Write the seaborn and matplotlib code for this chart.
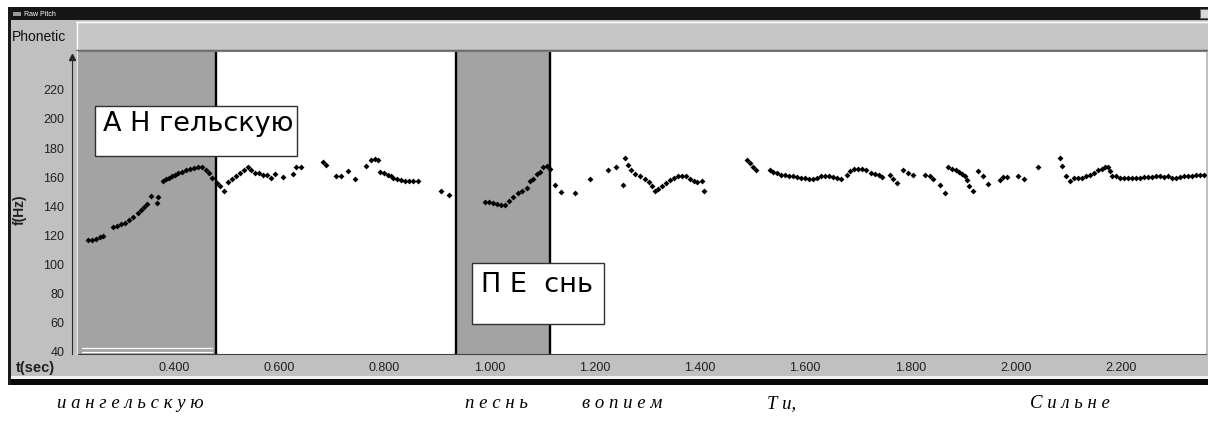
import matplotlib
matplotlib.use("Agg")
import matplotlib.pyplot as plt
import seaborn as sns
import pandas as pd
from matplotlib.patches import Rectangle
from matplotlib.ticker import MultipleLocator, FormatStrFormatter

# pitch track (t in sec, f in Hz)
angel_t = [0.236, 0.244, 0.252, 0.259, 0.265, 0.284, 0.292, 0.299, 0.307, 0.314,
           0.322, 0.332, 0.337, 0.343, 0.349, 0.356, 0.368, 0.370, 0.379, 0.385,
           0.390, 0.396, 0.402, 0.408, 0.415, 0.423, 0.430, 0.438, 0.446, 0.453,
           0.461, 0.467, 0.472, 0.482, 0.487, 0.495, 0.503, 0.510, 0.518, 0.525,
           0.533, 0.541, 0.546, 0.554, 0.562, 0.569, 0.577, 0.584, 0.592, 0.607,
           0.626, 0.632, 0.641, 0.683, 0.689, 0.708, 0.717, 0.731, 0.744, 0.765,
           0.775, 0.782, 0.788, 0.792, 0.799, 0.807, 0.813, 0.816, 0.824, 0.832,
           0.839, 0.847, 0.854, 0.864, 0.908, 0.923]
angel_f = [116, 116, 117, 118, 119, 125, 126, 127, 128, 130,
           132, 135, 137, 139, 141, 146.5, 141.7, 146, 157, 158,
           159, 160, 161, 162, 163, 164, 165, 165.5, 166, 166.5,
           164, 162, 159, 155, 153, 150, 156, 158, 160, 162,
           164, 166, 164, 162, 162, 161, 161, 159, 161.5, 159.5,
           161.5, 166, 166, 170, 168, 160, 160, 163.5, 158, 167,
           171, 172, 171, 163, 162, 161, 160, 158.5, 158, 157.5,
           157, 157, 157, 157, 150, 147]

pesn_t = [0.991, 0.999, 1.006, 1.014, 1.022, 1.029, 1.037, 1.044, 1.054, 1.062,
          1.071, 1.077, 1.083, 1.090, 1.096, 1.102, 1.109, 1.115, 1.124, 1.136,
          1.162, 1.191, 1.225, 1.240, 1.254, 1.257, 1.263, 1.269, 1.276, 1.286,
          1.295, 1.303, 1.309, 1.314, 1.320, 1.328, 1.335, 1.343, 1.351, 1.358,
          1.366, 1.373, 1.381, 1.389, 1.394, 1.404, 1.408]
pesn_f = [142.5, 142, 141.5, 141, 140.5, 140, 143, 145.5, 148.5, 150,
          152, 156.5, 158, 161.5, 163, 166, 167, 165, 154, 149,
          148.5, 158, 164, 166.5, 154, 172.5, 168, 164, 161.5, 160,
          158, 156, 153, 150, 151, 153, 155, 157.5, 159, 160,
          160, 160, 158, 157, 156, 157, 150]

silne_t = [1.489, 1.495, 1.501, 1.507, 1.533, 1.539, 1.546, 1.554, 1.562, 1.569,
           1.577, 1.584, 1.592, 1.600, 1.607, 1.615, 1.622, 1.630, 1.638, 1.645,
           1.653, 1.661, 1.668, 1.680, 1.685, 1.693, 1.700, 1.708, 1.716, 1.725,
           1.733, 1.740, 1.746, 1.761, 1.767, 1.775, 1.786, 1.795, 1.805, 1.828,
           1.837, 1.843, 1.856, 1.866, 1.872, 1.879, 1.887, 1.892, 1.898, 1.904,
           1.908, 1.911, 1.919, 1.929, 1.938, 1.948, 1.970, 1.976, 1.984, 2.005,
           2.016, 2.043, 2.084, 2.088, 2.096, 2.103, 2.111, 2.119, 2.126, 2.134,
           2.141, 2.149, 2.157, 2.164, 2.170, 2.176, 2.180, 2.183, 2.191, 2.199,
           2.206, 2.214, 2.221, 2.229, 2.237, 2.244, 2.252, 2.259, 2.267, 2.275,
           2.282, 2.290, 2.297, 2.305, 2.313, 2.320, 2.328, 2.335, 2.343, 2.350,
           2.358]
silne_f = [171, 169, 166, 164, 164, 163, 162, 161, 160.5, 160,
           160, 159.5, 158.5, 158.5, 158, 158, 159, 160, 160, 160,
           159.5, 159, 158, 161, 163.5, 165, 165, 165, 164.5, 162,
           161.5, 161, 159.5, 161, 158, 155.5, 164, 162, 161, 161,
           160, 158, 154, 148.5, 166.5, 165, 164.5, 163, 161.5, 160,
           157.5, 153, 150, 163.5, 160, 154.5, 157.5, 159.5, 159.5, 160,
           158, 166.5, 172.5, 167, 160, 157, 159, 159, 159, 160,
           161, 162, 164, 165, 166.5, 166.5, 163.5, 160, 160, 159,
           159, 158.5, 158.5, 159, 159, 159.5, 159.5, 159.5, 160, 160,
           159.5, 160, 159, 158.5, 159.5, 160, 160, 160, 160.5, 160.5,
           160.5]

# selected phonetic intervals (sec)
span_start = [0.20, 0.936]
span_end = [0.480, 1.115]
span_labels = ["А Н гельскую", "П Е  снь"]

# transcript line under the window
words = ["и а н г е л ь с к у ю", "п е с н ь", "в о п и е м", "Т и,", "С и л ь н е"]
word_px = [57, 465, 582, 767, 1030]

y_major = list(range(40, 240, 20))
x_major = [0.4, 0.6, 0.8, 1.0, 1.2, 1.4, 1.6, 1.8, 2.0, 2.2]

df = pd.DataFrame({
    "t": angel_t + pesn_t + silne_t,
    "f": angel_f + pesn_f + silne_f,
})

sns.set_style("white")
plt.rcParams['font.family'] = ['Liberation Sans', 'DejaVu Sans']

W, H = 1208, 435
fig = plt.figure(figsize=(W / 100, H / 100), dpi=100)
fig.patch.set_facecolor('white')

# window chrome drawn in pixel space
bg = fig.add_axes([0, 0, 1, 1], zorder=0)
bg.set_xlim(0, W)
bg.set_ylim(H, 0)
bg.axis('off')
bg.add_patch(Rectangle((8, 8), W - 8, 378, fc='#c0c0c0', ec='none'))
bg.add_patch(Rectangle((8, 8), W - 8, 13, fc='#161616', ec='none'))
bg.add_patch(Rectangle((8, 377), W - 8, 2.5, fc='#f2f2f2', ec='none'))
bg.add_patch(Rectangle((8, 380), W - 8, 6, fc='#080808', ec='none'))
bg.add_patch(Rectangle((8, 8), 3, 378, fc='#1a1a1a', ec='none'))
bg.add_patch(Rectangle((1200, 10), 8, 9, fc='#d8d8d8', ec='#606060', lw=0.6))
bg.add_patch(Rectangle((13, 12.5), 8, 4, fc='#9a9a9a', ec='none'))
bg.text(24, 14.5, 'Raw Pitch', fontsize=5, color='white', va='center')
# header row
bg.add_patch(Rectangle((76, 22), W - 76, 28, fc='#c6c6c6', ec='none'))
bg.plot([76, W], [23, 23], color='white', lw=1)
bg.plot([76.5, 76.5], [23, 50], color='white', lw=1)
bg.plot([76, W], [50.5, 50.5], color='#6a6a6a', lw=1)
bg.text(12, 37, 'Phonetic', fontsize=10, va='center', color='#101010')
bg.plot([77, 77], [52, 355], color='#e8e8e8', lw=1)
bg.plot(72, 58, marker='^', ms=4, color='#202020')
bg.text(20, 210, 'f(Hz)', rotation=90, fontsize=10, fontweight='bold',
        ha='center', va='center', color='#202020')
bg.text(35, 368, 't(sec)', fontsize=10.5, fontweight='bold',
        ha='center', va='center', color='#202020')
for w, px in zip(words, word_px):
    bg.text(px, 404, w, family=['Liberation Serif', 'DejaVu Serif'],
            fontstyle='italic', fontsize=13.5, va='center', color='black')

# pitch plot
ax = fig.add_axes([78 / W, 1 - 355 / H, (W - 2 - 78) / W, (355 - 52) / H], zorder=1)
ax.set_facecolor('white')
ax.set_xlim(0.2175, 2.362)
ax.set_ylim(37.9, 246)

for s, e in zip(span_start, span_end):
    ax.axvspan(s, e, color='#a3a3a3', lw=0, zorder=0.5)
for x in [span_end[0], span_start[1], span_end[1]]:
    ax.axvline(x, color='black', lw=1.7, zorder=1)
ax.plot([0.225, 0.472], [42.2, 42.2], color='white', lw=0.9, zorder=1)
ax.plot([0.225, 0.472], [39.4, 39.4], color='white', lw=0.9, zorder=1)

sns.scatterplot(data=df, x="t", y="f", marker='D', s=9, color='black',
                linewidth=0, ax=ax, zorder=2, legend=False)

# label boxes
boxes = [(0.2498, 173.9, 0.384, 34.4), (0.9665, 58.5, 0.251, 41.9)]
text_pos = [(0.265, 191.5), (0.984, 81.5)]
for (bx, by, bw, bh), (tx, ty), lab in zip(boxes, text_pos, span_labels):
    ax.add_patch(Rectangle((bx, by), bw, bh, fc='white', ec='#303030', lw=1, zorder=3))
    ax.text(tx, ty, lab, fontsize=19.5, family=['DejaVu Sans'], va='baseline',
            ha='left', color='black', zorder=4)

ax.set_xlabel('')
ax.set_ylabel('')
ax.yaxis.set_major_locator(plt.FixedLocator(y_major))
ax.yaxis.set_minor_locator(MultipleLocator(10))
ax.xaxis.set_major_locator(plt.FixedLocator(x_major))
ax.xaxis.set_minor_locator(MultipleLocator(0.1))
ax.xaxis.set_major_formatter(FormatStrFormatter('%.3f'))

ax.spines['right'].set_visible(False)
ax.spines['top'].set_color('#7a7a7a')
ax.spines['left'].set_position(('outward', 4.3))
ax.spines['left'].set_bounds(37.9, 241.9)
ax.spines['left'].set_color('#2a2a2a')
ax.spines['bottom'].set_color('#404040')

ax.tick_params(axis='y', which='major', direction='out', length=3, width=0.8,
               color='#2a2a2a', labelsize=9, pad=2.5, labelcolor='#202020')
ax.tick_params(axis='y', which='minor', direction='out', length=2.2, width=0.8,
               color='#2a2a2a')
ax.tick_params(axis='x', which='both', direction='out', length=2.3, width=0.8,
               color='#2a2a2a', labelsize=9, pad=3, labelcolor='#202020')
ax.set_yticklabels([str(v) for v in y_major])

fig.savefig('out.png', dpi=100)
